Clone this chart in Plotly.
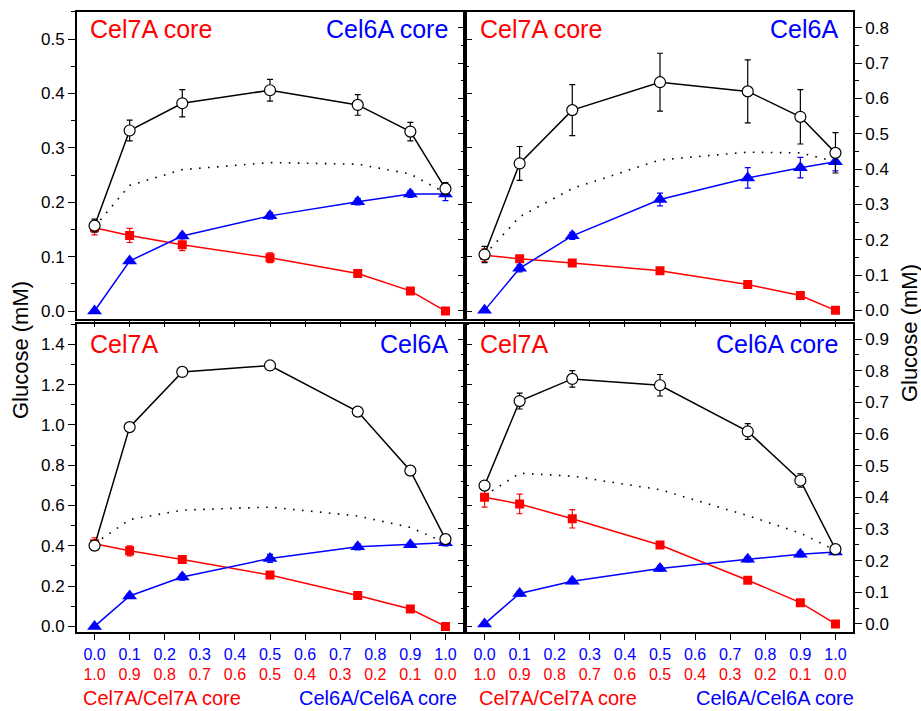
import plotly.graph_objects as go

W, H = 921, 711

# ---------------- data ----------------
x_vals = [0.0, 0.1, 0.25, 0.5, 0.75, 0.9, 1.0]

# top-left: Cel7A core + Cel6A core
tl_mix = [0.157, 0.332, 0.382, 0.406, 0.379, 0.330, 0.225]
tl_mix_err = [0.012, 0.019, 0.025, 0.020, 0.019, 0.017, 0.011]
tl_red = [0.153, 0.139, 0.122, 0.098, 0.069, 0.037, 0.0]
tl_red_err = [0.013, 0.013, 0.011, 0.009, 0.004, 0.003, 0.002]
tl_blue = [0.0, 0.092, 0.138, 0.175, 0.201, 0.215, 0.215]
tl_blue_err = [0.002, 0.004, 0.005, 0.006, 0.006, 0.006, 0.012]
tl_sum = [0.155, 0.231, 0.260, 0.273, 0.270, 0.252, 0.217]

# top-right: Cel7A core + Cel6A
tr_mix = [0.158, 0.416, 0.567, 0.646, 0.620, 0.548, 0.446]
tr_mix_err = [0.023, 0.048, 0.072, 0.082, 0.089, 0.077, 0.057]
tr_red = [0.156, 0.146, 0.134, 0.112, 0.073, 0.042, 0.0]
tr_red_err = [0.018, 0.004, 0.004, 0.004, 0.004, 0.004, 0.002]
tr_blue = [0.0, 0.119, 0.211, 0.314, 0.375, 0.404, 0.421]
tr_blue_err = [0.003, 0.010, 0.010, 0.018, 0.029, 0.029, 0.026]
tr_sum = [0.157, 0.265, 0.345, 0.426, 0.448, 0.446, 0.421]

# bottom-left: Cel7A + Cel6A
bl_mix = [0.401, 0.989, 1.263, 1.295, 1.066, 0.773, 0.433]
bl_mix_err = [0.015, 0.008, 0.008, 0.010, 0.010, 0.010, 0.012]
bl_red = [0.410, 0.375, 0.332, 0.255, 0.153, 0.086, 0.0]
bl_red_err = [0.030, 0.025, 0.012, 0.010, 0.008, 0.006, 0.003]
bl_blue = [0.0, 0.151, 0.245, 0.337, 0.395, 0.405, 0.415]
bl_blue_err = [0.004, 0.012, 0.015, 0.020, 0.015, 0.012, 0.015]
bl_sum = [0.410, 0.530, 0.577, 0.592, 0.548, 0.491, 0.415]

# bottom-right: Cel7A + Cel6A core
br_mix = [0.437, 0.704, 0.774, 0.754, 0.608, 0.453, 0.236]
br_mix_err = [0.010, 0.025, 0.026, 0.034, 0.025, 0.021, 0.010]
br_red = [0.400, 0.379, 0.332, 0.249, 0.138, 0.067, 0.0]
br_red_err = [0.031, 0.031, 0.029, 0.010, 0.006, 0.005, 0.003]
br_blue = [0.0, 0.096, 0.135, 0.175, 0.204, 0.220, 0.227]
br_blue_err = [0.004, 0.008, 0.008, 0.008, 0.008, 0.008, 0.008]
br_sum = [0.405, 0.476, 0.467, 0.424, 0.342, 0.287, 0.232]

# tick labels
x_tick_vals = [0.0, 0.1, 0.2, 0.3, 0.4, 0.5, 0.6, 0.7, 0.8, 0.9, 1.0]
blue_tick_labels = ["0.0", "0.1", "0.2", "0.3", "0.4", "0.5", "0.6", "0.7", "0.8", "0.9", "1.0"]
red_tick_labels = ["1.0", "0.9", "0.8", "0.7", "0.6", "0.5", "0.4", "0.3", "0.2", "0.1", "0.0"]

panel_titles = [("Cel7A core", "Cel6A core"), ("Cel7A core", "Cel6A"),
                ("Cel7A", "Cel6A"), ("Cel7A", "Cel6A core")]
bottom_labels = ("Cel7A/Cel7A core", "Cel6A/Cel6A core")
y_title = "Glucose (mM)"

# ---------------- styling ----------------
RED = "#ff0000"
BLUE = "#0000ff"
BLACK = "#000000"
FONT = "Arial, Liberation Sans, Helvetica, sans-serif"

panels = [
    dict(mix=tl_mix, mix_err=tl_mix_err, red=tl_red, red_err=tl_red_err,
         blue=tl_blue, blue_err=tl_blue_err, sm=tl_sum),
    dict(mix=tr_mix, mix_err=tr_mix_err, red=tr_red, red_err=tr_red_err,
         blue=tr_blue, blue_err=tr_blue_err, sm=tr_sum),
    dict(mix=bl_mix, mix_err=bl_mix_err, red=bl_red, red_err=bl_red_err,
         blue=bl_blue, blue_err=bl_blue_err, sm=bl_sum),
    dict(mix=br_mix, mix_err=br_mix_err, red=br_red, red_err=br_red_err,
         blue=br_blue, blue_err=br_blue_err, sm=br_sum),
]

# pixel frames (left, right, top, bottom)
frames = [(77, 463, 12, 321), (467, 853, 12, 321),
          (77, 463, 326, 636), (467, 853, 326, 636)]
y_ranges = [[-0.015, 0.55], [-0.025, 0.845], [-0.03, 1.5], [-0.027, 0.947]]
y_dticks = [0.1, 0.1, 0.2, 0.1]

fig = go.Figure()

for i, p in enumerate(panels):
    xa = "x" if i == 0 else f"x{i+1}"
    ya = "y" if i == 0 else f"y{i+1}"
    fig.add_trace(go.Scatter(x=x_vals, y=p["sm"], mode="lines", xaxis=xa, yaxis=ya,
                             line=dict(color=BLACK, width=1.6, dash="1.6px,7.4px"),
                             showlegend=False, hoverinfo="skip"))
    fig.add_trace(go.Scatter(x=x_vals, y=p["red"], mode="lines+markers", xaxis=xa, yaxis=ya,
                             line=dict(color=RED, width=1.5),
                             marker=dict(symbol="square", size=9, color=RED),
                             error_y=dict(type="data", array=p["red_err"], color=RED,
                                          thickness=1.2, width=3),
                             showlegend=False))
    fig.add_trace(go.Scatter(x=x_vals, y=p["blue"], mode="lines+markers", xaxis=xa, yaxis=ya,
                             line=dict(color=BLUE, width=1.5),
                             marker=dict(symbol="triangle-up", size=13, color=BLUE),
                             error_y=dict(type="data", array=p["blue_err"], color=BLUE,
                                          thickness=1.2, width=3),
                             showlegend=False))
    fig.add_trace(go.Scatter(x=x_vals, y=p["mix"], mode="lines+markers", xaxis=xa, yaxis=ya,
                             line=dict(color=BLACK, width=1.5),
                             marker=dict(symbol="circle", size=11, color="white",
                                         line=dict(color=BLACK, width=1.2)),
                             error_y=dict(type="data", array=p["mix_err"], color=BLACK,
                                          thickness=1.2, width=3),
                             showlegend=False))

layout = dict(
    width=W, height=H,
    margin=dict(l=0, r=0, t=0, b=0),
    paper_bgcolor="white", plot_bgcolor="white",
    font=dict(family=FONT, color=BLACK, size=17),
    showlegend=False,
)

tick_text = [f"<span style='color:{BLUE}'>{b}</span><br><span style='color:{RED}'>{r}</span>"
             for b, r in zip(blue_tick_labels, red_tick_labels)]

for i in range(4):
    l, r, t, b = frames[i]
    xkey = "xaxis" if i == 0 else f"xaxis{i+1}"
    ykey = "yaxis" if i == 0 else f"yaxis{i+1}"
    xa = "x" if i == 0 else f"x{i+1}"
    ya = "y" if i == 0 else f"y{i+1}"
    bottom = i >= 2
    layout[xkey] = dict(
        domain=[l / W, r / W], anchor=ya, range=[-0.05, 1.05],
        tickmode="array", tickvals=x_tick_vals,
        ticktext=tick_text if bottom else None,
        showticklabels=bottom,
        tickfont=dict(size=16, family=FONT),
        ticks="outside", ticklen=6, tickwidth=1.3, tickcolor=BLACK,
        showline=True, linecolor=BLACK, linewidth=1.8, mirror=True,
        showgrid=False, zeroline=False,
    )
    layout[ykey] = dict(
        domain=[1 - b / H, 1 - t / H], anchor=xa, range=y_ranges[i],
        side="left" if i % 2 == 0 else "right",
        tick0=0, dtick=y_dticks[i], tickformat=".1f",
        tickfont=dict(size=17, family=FONT),
        ticks="outside", ticklen=7, tickwidth=1.3, tickcolor=BLACK,
        minor=dict(ticks="outside", ticklen=4, tickwidth=1.1, tickcolor=BLACK,
                   dtick=y_dticks[i] / 2, tick0=0, showgrid=False),
        showline=True, linecolor=BLACK, linewidth=1.8, mirror="ticks",
        showgrid=False, zeroline=False,
    )

annotations = []
title_y = [29.5, 29.5, 346, 346]
for i in range(4):
    l, r, t, b = frames[i]
    left_t, right_t = panel_titles[i]
    annotations.append(dict(text=left_t, x=(l + 11) / W, y=1 - title_y[i] / H,
                            xref="paper", yref="paper", xanchor="left", yanchor="middle",
                            showarrow=False, font=dict(size=25, color=RED, family=FONT)))
    annotations.append(dict(text=right_t, x=(r - 13) / W, y=1 - title_y[i] / H,
                            xref="paper", yref="paper", xanchor="right", yanchor="middle",
                            showarrow=False, font=dict(size=25, color=BLUE, family=FONT)))

# bottom composition labels
for lx, rx in [(81, 459), (477, 856)]:
    annotations.append(dict(text=bottom_labels[0], x=lx / W, y=1 - 702 / H,
                            xref="paper", yref="paper", xanchor="left", yanchor="middle",
                            showarrow=False, font=dict(size=20, color=RED, family=FONT)))
    annotations.append(dict(text=bottom_labels[1], x=rx / W, y=1 - 702 / H,
                            xref="paper", yref="paper", xanchor="right", yanchor="middle",
                            showarrow=False, font=dict(size=20, color=BLUE, family=FONT)))

# y axis titles
annotations.append(dict(text=y_title, x=20 / W, y=1 - 352 / H, xref="paper", yref="paper",
                        xanchor="center", yanchor="middle", textangle=-90, showarrow=False,
                        font=dict(size=22, color=BLACK, family=FONT)))
annotations.append(dict(text=y_title, x=909 / W, y=1 - 335 / H, xref="paper", yref="paper",
                        xanchor="center", yanchor="middle", textangle=-90, showarrow=False,
                        font=dict(size=22, color=BLACK, family=FONT)))

layout["annotations"] = annotations
fig.update_layout(**layout)

fig.write_html("out.html", config={"displayModeBar": False},
               post_script="document.body.style.margin='0px';document.body.style.overflow='hidden';")
